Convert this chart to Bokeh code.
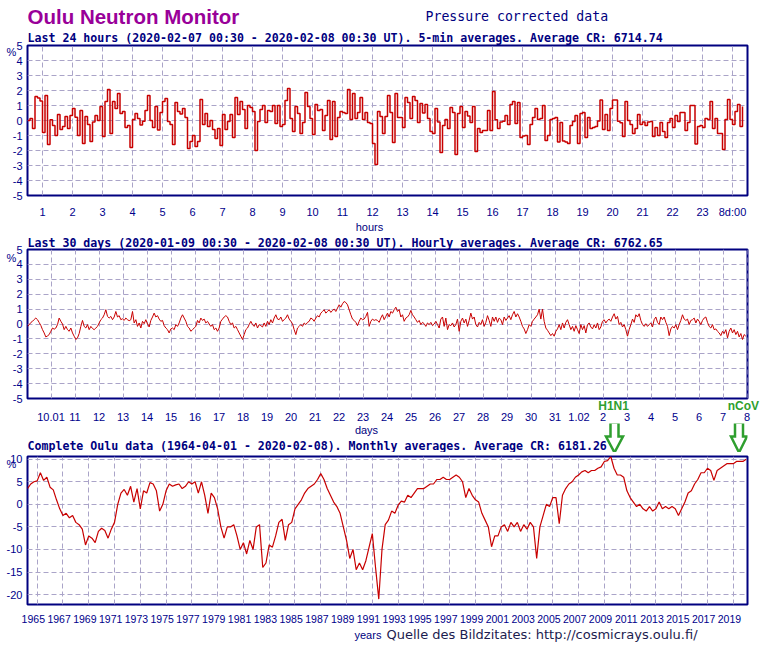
from bokeh.plotting import figure
from bokeh.layouts import column
from bokeh.models import FixedTicker, Range1d, Label, PolyAnnotation, LinearAxis, Title
from bokeh.embed import file_html
from bokeh.resources import INLINE

# ---------------- data ----------------
# Last 24 hours, 5-min averages, % deviation; starts 2020-02-07 00:30 UT (hour 0.5)
HOURS_START = 0.5
HOURS_STEP = 1.0 / 12.0
DEV_24H = [
    0.0, 0.13, -0.53, 1.6, 1.5, 1.3, -0.8, 1.67, -1.6, 0.05,
    -0.33, -1.0, 0.4, -0.6, -0.4, 0.27, -0.53, 0.33, 0.8, 0.22,
    -1.0, 0.67, -1.53, 0.27, -0.27, -1.4, -0.1, 0.33, 0.0, 0.93,
    -1.07, 1.27, 2.07, -0.87, 1.27, 0.8, 1.8, 0.47, 0.6, -0.47,
    -0.33, -1.8, 0.07, 0.47, 0.13, -0.3, -0.05, 0.67, 1.67, 0.0,
    -0.47, 0.93, -0.63, 0.53, 1.27, 1.47, -0.07, -0.27, -1.6, 1.2,
    0.6, 0.43, 0.8, 0.2, -1.87, -1.4, -1.0, -1.73, -1.4, 1.4,
    -0.27, 0.47, -0.4, 0.0, -0.6, -1.2, -0.53, -1.67, 0.4, -0.6,
    -0.07, 0.4, -1.13, 1.53, 0.4, 1.27, 0.73, -0.53, 1.0, 0.87,
    0.6, -2.0, -0.07, 0.73, 1.0, -0.13, 0.67, 0.6, 1.0, -0.2,
    1.0, -0.4, -0.27, 1.33, 2.13, 0.13, -0.73, 0.93, 0.47, -0.87,
    -0.13, 1.87, 0.93, 0.13, -0.93, 1.07, 0.67, 0.73, -0.67, 0.33,
    1.33, -1.27, 1.27, -1.07, 0.2, 0.6, 0.53, 0.47, 2.07, 0.07,
    1.8, 0.13, 0.53, 1.53, 0.07, 0.53, -0.13, -0.2, -1.53, -2.93,
    0.6, 0.27,
    -0.87, 0.27, 1.67, 0.53, -1.47, 1.8, 0.2, 0.2, -0.47,
    1.53, 1.2, 0.13, 1.6, 1.33, -0.13, 1.13, 0.5, 1.07, 0.13,
    -0.73, -0.87, 0.8, -0.1, -2.13, -0.33, 0.07, -0.53, 0.87, 0.53,
    -2.27, 0.47, 0.93, -0.47, 0.6, 0.3, -0.13, 0.93, -2.07, -0.53,
    -0.8, -0.67, -0.67, 0.67, -0.67, 1.93, 0.05, -0.53, -0.1, -0.05,
    0.33, -0.27, 1.07, 1.27, -0.2, 1.2, -1.13, -1.03, -1.0, -1.6,
    -0.27, 0.2, 0.8, 0.07, 0.13, 1.0, -1.33, -1.0, 0.07, 0.13,
    0.2, -1.43, -0.13, -1.37, -1.43, -1.53, -0.33, -0.07, 0.33,
    -1.53, 0.47, 0.53, -1.13, 0.2, -0.53, -0.47, -0.4, -0.03, 1.37,
    -0.6, 0.4, -0.67, 0.8, 1.37, 1.37, -0.05, -0.15, -1.07,
    1.27, 0.0, -0.27, -0.87, -0.53, 0.4, -0.27, -0.1, -0.33, -0.1,
    -0.07, -1.07, -0.47, -1.0, -0.13, -0.73, -1.13, -0.13, 0.13, -0.47,
    0.33, -0.07, 0.53, 0.53, -0.67, -0.13, 1.0, 1.0, -1.57, -0.4,
    -0.33, -0.47, 0.13, 0.07, 1.27, -0.53, 0.13, -0.87, -0.87, -1.93,
    0.07, 1.4, 0.07, -0.27, 0.6, 1.07, -0.4, 0.93,
]

# Last 30 days, % deviation read every 100 minutes; day 0 = 2020-01-09 00:00
DAYS_START = 0.5 / 24.0
DAYS_STEP = 5.0 / 72.0
DEV_30D = [
    -0.16, -0.05, 0.10, 0.18, 0.30, 0.40, 0.29, 0.10, -0.10, -0.38,
    -0.60, -0.87, -0.80, -0.71, -0.49, -0.27, -0.35, -0.27, -0.04, 0.40,
    0.18, 0.00, -0.38, -0.16, -0.38, -0.49, -0.27, -0.60, -0.82, -1.04,
    -0.93, -0.64, -0.16, 0.24, -0.16, -0.27, -0.04, -0.38, -0.16, -0.30,
    -0.38, -0.27, -0.16, 0.07, 0.29, 0.40, 0.62, 0.96, 0.51, 0.40,
    0.51, 0.29, 0.47, 0.84, 0.47, 0.56, 0.29, 0.35, 0.24, 0.40,
    0.29, 0.22, 0.29, 0.84, 0.07, 0.29, -0.16, 0.07, -0.27, 0.18,
    0.02, 0.29, 0.00, -0.20, 0.24, 0.47, 0.73, 0.47, 0.56, 0.33,
    0.18, 0.24, -0.11, -0.27, -0.38, -0.60, -0.33, -0.27, -0.38, -0.04,
    -0.16, 0.07, 0.40, 0.62, 0.40, 0.18, -0.16, -0.27, -0.49, -0.38,
    -0.27, -0.16, 0.24, 0.07, 0.40, 0.24, 0.33, 0.07, 0.18, 0.00,
    -0.16, -0.04, -0.38, -0.27, -0.49, -0.27, 0.18, 0.33, 0.47, 0.56,
    0.47, 0.18, -0.04, 0.07, -0.27, -0.16, -0.38, -0.60, -0.82, -1.04,
    -0.71, -0.38, -0.27, -0.04, 0.18, -0.04, -0.16, 0.07, -0.27, -0.04,
    -0.11, -0.20, 0.07, -0.16, 0.18, -0.04, 0.29, 0.07, 0.40, 0.62,
    0.33, 0.29, 0.47, 0.18, 0.29, 0.40, 0.62, 0.33, 0.18, 0.02,
    -0.38, -0.71, -0.27, -0.16, -0.04, -0.16, 0.07, -0.04, 0.11, 0.18,
    0.40, 0.33, 0.18, 0.40, 0.56, 0.47, 0.73, 0.84, 0.96, 0.73,
    0.84, 0.96, 0.78, 0.91, 1.00, 0.84, 1.07, 1.29, 1.13, 1.36,
    1.51, 1.44, 1.29, 0.96, 0.62, 0.33, 0.24, 0.11, -0.11, 0.18,
    0.40, 0.29, 0.33, 0.51, 0.78, -0.16, 0.18, 0.33, 0.24, 0.29,
    0.24, 0.11, 0.40,
    0.62, 0.29, 0.51, 0.73, 0.47, 0.84, 0.73, 0.96, 1.13, 0.84,
    0.96, 0.47, 0.62, 0.18, 0.40, 0.47, 0.62, 0.91, 0.62, 0.47,
    0.29, 0.11, 0.24, -0.04, 0.11, 0.02, -0.16, 0.07, -0.04, 0.11,
    -0.11, 0.00, 0.18, -0.04, -0.27, 0.33, 0.47, -0.16, 0.40, -0.38,
    -0.04, -0.11, 0.07, -0.20, -0.04, 0.33, -0.49, 0.18, 0.40, 0.07,
    0.33, -0.16, 0.24, 0.73, 0.33, 0.47, -0.04, -0.20, 0.11, -0.04,
    0.29, -0.16, 0.11, 0.56, 0.24, -0.16, 0.47, 0.18, 0.47, 0.11,
    0.40, 0.29, -0.04, 0.47, 0.24, 0.40, 0.56, 0.29, 0.62, 0.84,
    0.47, 0.69, 0.47, 0.18, -0.16, -0.33, -0.64, -0.38, -0.04, -0.16,
    0.18, 0.33, 0.47, 0.62, 1.00, 0.33, 1.00, 0.18, -0.27, -0.42,
    -0.60, -0.78, -0.64, -0.82, -0.49, -0.33, -0.04, -0.38, 0.07, -0.27,
    0.11, 0.29, -0.04, -0.38, -0.16, -0.49, -0.11, -0.38, -0.64, -0.04,
    -0.38, -0.11, -0.60, -0.04, 0.07, -0.20, -0.33, -0.04, -0.27, 0.07,
    -0.38, -0.20, 0.18, 0.29, 0.07, 0.24, 0.33, 0.18, 0.47, 0.69,
    0.33, 0.51, -0.04, 0.11, -0.20, -0.04, -0.38, -0.82, -0.38, -0.04,
    0.33, 0.11, 0.62, 0.47, 0.69, 0.24, -0.04, -0.16, 0.02, -0.16,
    -0.04, 0.07, -0.20, 0.29, 0.47, 0.11, -0.04, 0.47, 0.29, 0.47,
    0.11, -0.16, -0.78, -0.33, -0.16, -0.27, -0.04, -0.38, -0.04, 0.24,
    0.62, 0.33, 0.24, 0.33, -0.04, 0.24, 0.29, 0.40, 0.07, 0.33,
    0.18, -0.04, 0.24, 0.40, 0.47, 0.11, -0.16, -0.27, -0.04, -0.38,
    -0.33, -0.49, -0.60, -0.78, -0.49, -0.64, -0.38, -0.93, -0.49, -0.27,
    -0.60, -0.38, -0.71, -0.49, -0.87, -0.64, -1.04, -0.71, -0.82,
]

# Complete Oulu data, % deviation read quarterly from 1964.25
YEAR_START = 1964.25
YEAR_STEP = 0.25
DEV_ALL = [
    3.5, 4.5, 5.0,
    5.2, 7.0, 5.3, 6.0,      # 1965
    3.8, 3.2, 1.0, -1.0,     # 1966
    -2.5, -2.0, -3.0, -2.5,  # 1967
    -4.0, -4.5, -5.5, -9.0,  # 1968
    -7.0, -7.5, -8.5, -6.0,  # 1969
    -5.3, -5.8, -7.5, -5.5,  # 1970
    -4.0, 0.0, 2.5, 3.3,     # 1971
    2.0, 4.0, 0.5, 3.5,      # 1972
    -1.0, 3.0, 2.5, 4.8,     # 1973
    4.5, 3.0, -1.5, 0.0,     # 1974
    3.0, 4.5, 4.0, 4.3,      # 1975
    4.5, 3.5, 4.0, 5.0,      # 1976
    4.5, 5.0, 2.5, 5.0,      # 1977
    2.0, -2.0, 2.5, 1.5,     # 1978
    -1.0, -5.0, -7.5, -5.0,  # 1979
    -5.0, -4.5, -7.0, -10.0,  # 1980
    -8.5, -11.0, -8.0, -10.0,  # 1981
    -5.0, -4.5, -14.0, -13.0,  # 1982
    -9.0, -9.5, -7.0, -4.0,  # 1983
    -3.3, -8.0, -4.5, -4.0,  # 1984
    -1.0, 0.0, 1.0, 2.5,     # 1985
    3.5, 4.0, 4.5, 5.5,      # 1986
    6.8, 5.5, 3.5, 2.0,      # 1987
    0.5, -0.5, -2.0, -5.0,   # 1988
    -8.0, -12.0, -10.0, -14.5,  # 1989
    -13.0, -14.5, -12.5, -9.5,  # 1990
    -6.5, -14.0, -21.0, -10.0,  # 1991
    -4.5, -3.5, -1.5, -2.0,  # 1992
    -0.2, 0.7, 0.5, 2.0,     # 1993
    1.5, 2.5, 3.5, 3.5,      # 1994
    3.5, 4.0, 4.5, 4.5,      # 1995
    5.5, 5.5, 6.0, 5.5,      # 1996
    5.5, 6.0, 6.5, 6.0,      # 1997
    5.0, 1.5, 3.5, 2.0,      # 1998
    1.0, 0.5, -2.0, -3.5,    # 1999
    -5.0, -9.4, -7.0, -7.0,  # 2000
    -5.0, -4.5, -6.0, -4.0,  # 2001
    -5.0, -4.0, -6.0, -4.5,  # 2002
    -5.5, -4.0, -5.0, -12.0,  # 2003
    -5.0, -2.5, 0.0, -0.5,   # 2004
    1.5, 1.5, -4.3, 2.0,     # 2005
    3.5, 4.5, 5.0, 6.0,      # 2006
    6.5, 7.2, 7.5, 7.0,      # 2007
    7.5, 7.5, 8.0, 8.3,      # 2008
    9.5, 9.7, 10.6, 8.0,     # 2009
    6.5, 6.5, 6.0, 3.0,      # 2010
    1.5, 0.5, -0.5, 0.0,     # 2011
    -1.0, -1.5, -0.5, -1.5,  # 2012
    -1.0, 0.5, -1.0, -0.5,   # 2013
    -1.0, -0.5, -1.0, -2.5,  # 2014
    -1.0, 0.5, 2.5, 3.0,     # 2015
    4.5, 5.5, 7.0, 7.0,      # 2016
    8.0, 7.5, 5.3, 7.5,      # 2017
    8.0, 8.5, 9.0, 9.0,      # 2018
    9.0, 9.5, 9.5, 9.5,      # 2019
    10.0,                    # 2020
]

HOUR_TICKS = list(range(1, 25))
HOUR_LABELS = [str(h) for h in range(1, 24)] + ["8d:00"]
DAY_TICKS = list(range(1, 31))
DAY_LABELS = ["10.01"] + [str(d) for d in range(11, 32)] + ["1.02"] + [str(d) for d in range(2, 9)]
YEAR_TICKS = list(range(1965, 2020, 2))
PCT_TICKS = list(range(-5, 6))
PCT_TICKS_ALL = [-20, -15, -10, -5, 0, 5, 10]

MAIN_TITLE = "Oulu Neutron Monitor"
SUB_TITLE = "Pressure corrected data"
TITLE_24H = "Last 24 hours (2020-02-07 00:30 - 2020-02-08 00:30 UT). 5-min averages. Average CR: 6714.74"
TITLE_30D = "Last 30 days (2020-01-09 00:30 - 2020-02-08 00:30 UT). Hourly averages. Average CR: 6762.65"
TITLE_ALL = "Complete Oulu data (1964-04-01 - 2020-02-08). Monthly averages. Average CR: 6181.26"
SOURCE = "Quelle des Bildzitates: http://cosmicrays.oulu.fi/"
EVENTS = ["H1N1", "nCoV"]
EVENT_DAY = [24.44, 29.85]        # label positions on the 30-day axis

# ---------------- style ----------------
NAVY = "#000080"
TICKC = "#00008b"
RED = "#c80000"
GRID = "#aaa4c8"
GREEN = "#2f9f2f"
PURPLE = "#990099"
W = 760
BL, BR = 27, 13           # frame 720 px wide (the column aligns every frame to this)
MONO = "DejaVu Sans Mono"
SANS = "Liberation Sans"


def strip(top, bottom):
    """A text strip; the column aligns its frame with the panels, data units = page pixels."""
    p = figure(width=W, height=bottom - top, x_range=Range1d(BL, W - BR), y_range=Range1d(bottom, top),
               output_backend="svg", toolbar_location=None, title=None,
               x_axis_location=None, y_axis_location=None,
               min_border_left=BL, min_border_right=BR, min_border_top=0, min_border_bottom=0)
    p.xgrid.visible = False
    p.ygrid.visible = False
    p.outline_line_color = None
    p.background_fill_color = "white"
    p.border_fill_color = "white"
    return p


def txt(p, x, base, text, fs, color=NAVY, font=SANS, style="normal", align="left"):
    # base = wanted baseline (page px); the label anchor sits ~1/3 em above it
    p.add_layout(Label(x=x, y=base - 0.34 * fs, text=text, text_font=font,
                       text_font_size=f"{fs}px", text_font_style=style,
                       text_color=color, text_align=align, text_baseline="alphabetic"))


def panel(height, top, bottom, xr, yr, xticks, xlabels, yticks, pct_at, xstand, xfs,
          title=None, title_standoff=0):
    p = figure(width=W, height=height, x_range=Range1d(*xr), y_range=Range1d(*yr),
               output_backend="svg", toolbar_location=None, title=None,
               min_border_left=BL, min_border_right=BR,
               min_border_top=top, min_border_bottom=bottom)
    p.background_fill_color = "white"
    p.border_fill_color = "white"
    p.outline_line_color = NAVY
    p.outline_line_width = 2
    if title is not None:
        p.add_layout(Title(text=title, align="left", offset=0, standoff=title_standoff,
                           text_font=MONO, text_font_style="bold", text_font_size="11.6px",
                           text_color=NAVY), "above")
    xa, ya = p.xaxis[0], p.yaxis[0]
    for ax in (xa, ya):
        ax.axis_line_color = None
        ax.major_tick_line_color = None
        ax.minor_tick_line_color = None
        ax.major_tick_out = 0
        ax.major_tick_in = 0
        ax.minor_tick_out = 0
        ax.minor_tick_in = 0
        ax.major_label_text_color = TICKC
        ax.major_label_text_font = SANS
        ax.major_label_text_font_size = "11px"
    xa.ticker = FixedTicker(ticks=xticks)
    xa.major_label_overrides = {t: l for t, l in zip(xticks, xlabels)}
    xa.major_label_standoff = xstand
    xa.major_label_text_font_size = xfs
    # y axis: numbers plus the "%" unit sign just below the top tick
    ya.ticker = FixedTicker(ticks=list(yticks) + [pct_at])
    ov = {t: str(t) for t in yticks}
    ov[pct_at] = "%\u2007"
    ya.major_label_overrides = ov
    ya.major_label_standoff = 5
    p.xgrid[0].ticker = FixedTicker(ticks=xticks)
    p.ygrid[0].ticker = FixedTicker(ticks=yticks)
    for g in (p.xgrid[0], p.ygrid[0]):
        g.grid_line_color = GRID
        g.grid_line_dash = "5 3"
        g.grid_line_width = 1
    return p, xa


# ---------------- header strip ----------------
sA = strip(0, 28)
txt(sA, 27, 23, MAIN_TITLE, 20.5, color=PURPLE, style="bold")
txt(sA, 425, 20, SUB_TITLE, 13.2, font=MONO)

# ---------------- panel 1 ----------------
X1 = (0.5, 24.5)
p1, _ = panel(192, 17, 25, X1, (-5, 5), HOUR_TICKS, HOUR_LABELS, PCT_TICKS, 4.55, 10, "11px",
              title=TITLE_24H, title_standoff=1)
hrs = [HOURS_START + i * HOURS_STEP for i in range(len(DEV_24H))]
p1.step(hrs, DEV_24H, mode="after", line_color=RED, line_width=1.5)

sB = strip(220, 233)
txt(sB, 369, 230, "hours", 11, align="center")

# ---------------- panel 2 ----------------
X2 = (DAYS_START, 30 + DAYS_START)
p2, dates_ax = panel(190, 16, 24, X2, (-5, 5), DAY_TICKS, DAY_LABELS, PCT_TICKS, 4.42, -3, "11px",
                     title=TITLE_30D, title_standoff=0)
days = [DAYS_START + i * DAYS_STEP for i in range(len(DEV_30D))]
p2.line(days, DEV_30D, line_color=RED, line_width=1)
ev_ax = LinearAxis(ticker=FixedTicker(ticks=EVENT_DAY),
                   major_label_overrides={d: n for d, n in zip(EVENT_DAY, EVENTS)},
                   axis_line_color=None, major_tick_line_color=None, minor_tick_line_color=None,
                   major_tick_out=0, major_tick_in=0, minor_tick_out=0, minor_tick_in=0,
                   major_label_standoff=0, major_label_text_color=GREEN,
                   major_label_text_font=SANS, major_label_text_font_style="bold",
                   major_label_text_font_size="12px")
p2.below = [ev_ax, dates_ax]

sC = strip(423, 452)
txt(sC, 366, 433, "days", 11, align="center")
txt(sC, 27, 449, TITLE_ALL, 11.6, font=MONO, style="bold")


def arrow(cx, head=8.5):
    xs = [cx - 4, cx + 4, cx + 4, cx + head, cx, cx - head, cx - 4]
    ys = [422, 422, 436, 436, 452, 436, 436]
    return PolyAnnotation(xs=xs, ys=ys, fill_color=None, fill_alpha=0,
                          line_color=GREEN, line_alpha=1, line_width=2.5, line_join="miter")


sC.add_layout(arrow(614))
sC.add_layout(arrow(738.5, head=8))

# ---------------- panel 3 ----------------
X3 = (1964.25, 2020.105)
p3, _ = panel(175, 4, 23, X3, (-22.2, 10.6), [y - 0.3 for y in YEAR_TICKS],
              [str(y) for y in YEAR_TICKS], PCT_TICKS_ALL, 9.0, 10, "10.5px")
p3.xgrid[0].ticker = FixedTicker(ticks=YEAR_TICKS)
yrs = [YEAR_START + i * YEAR_STEP for i in range(len(DEV_ALL))]
p3.line(yrs, DEV_ALL, line_color=RED, line_width=1.2)

sD = strip(627, 655)
txt(sD, 354, 638.5, "years", 11)
txt(sD, 386, 638, SOURCE, 13, color="#1c1c4f", font="DejaVu Sans")

layout = column(sA, p1, sB, p2, sC, p3, sD, spacing=0)
open("out.html", "w").write(file_html(layout, INLINE))
